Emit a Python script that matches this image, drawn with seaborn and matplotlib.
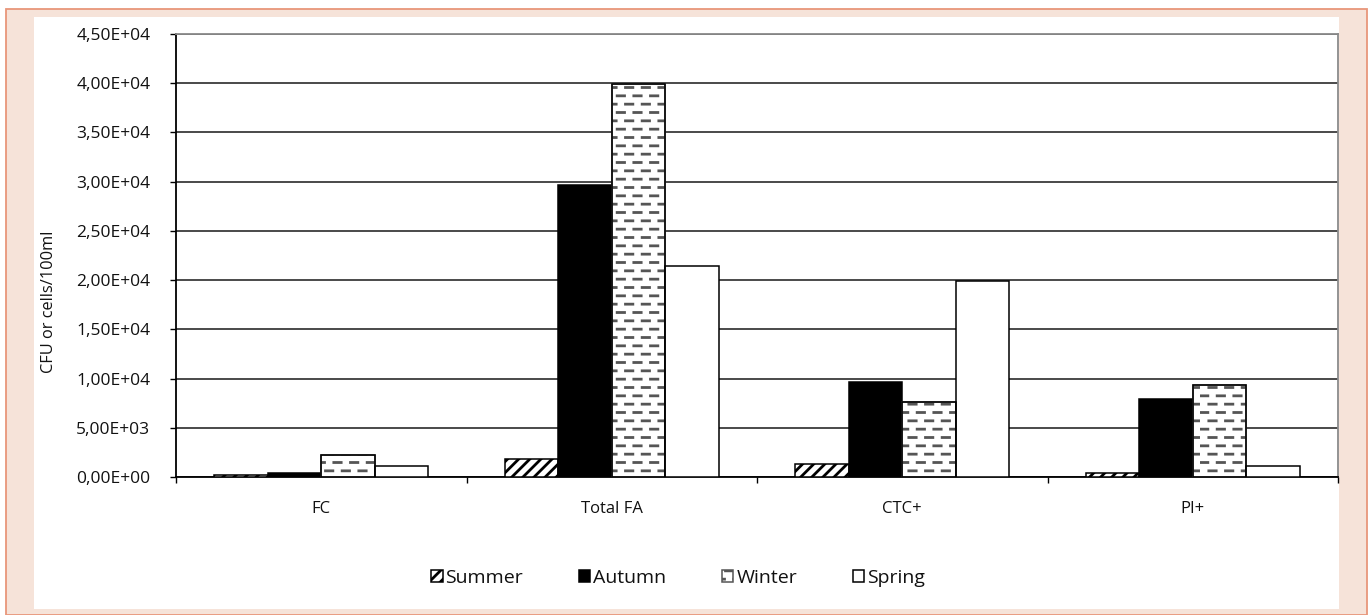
import numpy as np
import pandas as pd
import matplotlib
matplotlib.use("Agg")
import matplotlib.pyplot as plt
import matplotlib.hatch as mhatch
from matplotlib.path import Path
from matplotlib.patches import Rectangle
from matplotlib.ticker import FixedLocator, FuncFormatter
import seaborn as sns

# ---------------- data ----------------
categories = ["FC", "Total FA", "CTC+", "PI+"]
seasons = ["Summer", "Autumn", "Winter", "Spring"]
summer = [250, 1800, 1300, 380]
autumn = [400, 29700, 9650, 7900]
winter = [2200, 39900, 7650, 9350]
spring = [1150, 21400, 19900, 1150]
yticks = [0, 5000, 10000, 15000, 20000, 25000, 30000, 35000, 40000, 45000]
ylabel = "CFU or cells/100ml"


# ---------------- custom dashed hatch (replaces '-') ----------------
class DashedHorizontalHatch(mhatch.HatchPatternBase):
    def __init__(self, hatch, density):
        self.num_rows = int((hatch.count('-') + hatch.count('+')) * density)
        if self.num_rows % 2:
            self.num_rows += 1
        self.num_dashes = 6 if self.num_rows else 0
        self.num_vertices = self.num_rows * self.num_dashes * 2

    def set_vertices_and_codes(self, vertices, codes):
        p = 1.0 / self.num_dashes
        dash = 0.44 * p
        i = 0
        for r in range(self.num_rows):
            y = (r + 0.5) / self.num_rows
            off = 0.03 * p if r % 2 == 0 else 0.53 * p
            for k in range(self.num_dashes):
                x0 = k * p + off
                vertices[i] = (x0, y)
                vertices[i + 1] = (min(x0 + dash, 1.0), y)
                codes[i] = Path.MOVETO
                codes[i + 1] = Path.LINETO
                i += 2


mhatch._hatch_types[0] = DashedHorizontalHatch

# ---------------- style ----------------
sns.set_theme(style="white")
plt.rcParams["font.family"] = ["Open Sans", "DejaVu Sans"]
plt.rcParams["hatch.linewidth"] = 2.0

df = pd.DataFrame({
    "category": categories * 4,
    "season": [s for s in seasons for _ in categories],
    "value": summer + autumn + winter + spring,
})

W, H = 1370, 615
fig = plt.figure(figsize=(W / 100, H / 100), dpi=100)
fig.patch.set_facecolor("white")

# outer peach frame and inner white panel
fig.patches.append(Rectangle((6 / W, 0), (1367 - 6) / W, (615 - 9) / H,
                             transform=fig.transFigure, facecolor="#f6e3d9",
                             edgecolor="#e8967a", linewidth=1.3, zorder=-3))
fig.patches.append(Rectangle((34 / W, (615 - 609) / H), (1339 - 34) / W, (609 - 17) / H,
                             transform=fig.transFigure, facecolor="white",
                             edgecolor="none", zorder=-2))

ax = fig.add_axes([176 / W, 1 - 477 / H, (1338 - 176) / W, (477 - 34) / H])
ax.set_facecolor("none")

sns.barplot(data=df, x="category", y="value", hue="season",
            order=categories, hue_order=seasons,
            palette=["white", "black", "white", "white"],
            width=0.735, edgecolor="black", linewidth=1.1,
            errorbar=None, legend=False, ax=ax, zorder=3)

hatches = ["///", None, "--", None]
for cont, h in zip(ax.containers, hatches):
    for bar in cont:
        if h:
            bar.set_hatch(h)
        if h == "--":
            bar.set_edgecolor("#555555")
            outline = Rectangle(bar.get_xy(), bar.get_width(), bar.get_height(),
                                fill=False, edgecolor="black", linewidth=1.1,
                                zorder=4)
            ax.add_patch(outline)

ax.set_ylim(0, 45000)
ax.set_xlim(-0.5, len(categories) - 0.5)
ax.set_yticks(yticks)
ax.yaxis.set_major_formatter(FuncFormatter(
    lambda v, pos: ("%.2E" % v).replace(".", ",")))
ax.yaxis.grid(True, color="#3c3c3c", linewidth=1.3, zorder=0)
ax.set_axisbelow(True)

# x ticks at category boundaries, labels at centres
ax.xaxis.set_major_locator(FixedLocator(np.arange(-0.5, len(categories), 1.0)))
ax.xaxis.set_major_formatter(FuncFormatter(lambda v, pos: ""))
ax.xaxis.set_minor_locator(FixedLocator(np.arange(len(categories))))
ax.xaxis.set_minor_formatter(FuncFormatter(lambda v, pos: categories[int(round(v))]))
ax.tick_params(axis="x", which="major", direction="out", length=4, width=1,
               color="black", bottom=True)
ax.tick_params(axis="x", which="minor", length=0, pad=17, labelsize=12, labelcolor="#111111")
ax.tick_params(axis="y", direction="out", length=4.5, width=1, color="black",
               left=True, pad=14, labelsize=12.5, labelcolor="#111111")
ax.set_xlabel("")
ax.set_ylabel(ylabel, fontsize=11.8, color="#111111")
ax.yaxis.set_label_coords((57 - 176) / (1338 - 176), (477 - 302) / (477 - 34))

for side in ["left", "bottom"]:
    ax.spines[side].set_color("black")
    ax.spines[side].set_linewidth(1.3)
for side in ["top", "right"]:
    ax.spines[side].set_visible(True)
    ax.spines[side].set_color("#8a8a8a")
    ax.spines[side].set_linewidth(1.3)

leg = fig.legend(handles=list(ax.containers), labels=seasons, ncol=4,
                 loc="center", bbox_to_anchor=(678 / W, 1 - 578 / H),
                 frameon=False, fontsize=14, handlelength=0.6, handleheight=0.6,
                 handletextpad=0.15, columnspacing=2.85)
for t in leg.get_texts():
    t.set_color("#111111")

fig.savefig("out.png", dpi=100, facecolor=fig.get_facecolor())
